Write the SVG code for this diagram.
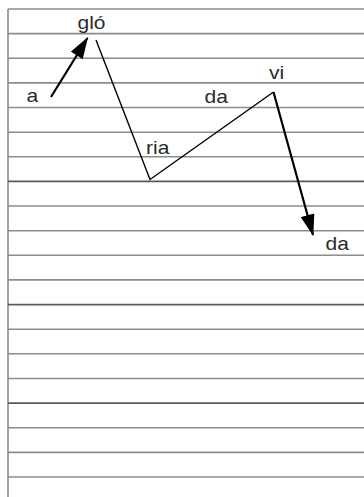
<svg xmlns="http://www.w3.org/2000/svg" width="364" height="497" viewBox="0 0 364 497">
<defs>
<marker id="ah" markerUnits="userSpaceOnUse" markerWidth="22" markerHeight="14" refX="19" refY="6.5" orient="auto" viewBox="0 0 20 13">
<path d="M0,0 L20,6.5 L0,13 Z" fill="#000"/>
</marker>
<style>
.rule{stroke:#8c8c8c;stroke-width:1.6}
.dark{stroke:#5a5a5a}
.conn{stroke:#000;fill:none;stroke-width:1.4}
.arr{stroke:#000;fill:none;stroke-width:2.2}
.lbl{font-family:"Liberation Sans",Arial,sans-serif;font-size:17.5px;fill:#2a2a2a}
</style>
</defs>
<rect width="364" height="497" fill="#fff"/>
<g id="paper">
<line class="rule" x1="8" y1="497" x2="8" y2="9"/>
<line class="rule" x1="8" y1="9" x2="364" y2="9"/>
<line class="rule" x1="8" y1="33.6" x2="364" y2="33.6"/>
<line class="rule" x1="8" y1="58.3" x2="364" y2="58.3"/>
<line class="rule" x1="8" y1="82.9" x2="364" y2="82.9"/>
<line class="rule" x1="8" y1="107.5" x2="364" y2="107.5"/>
<line class="rule" x1="8" y1="132.2" x2="364" y2="132.2"/>
<line class="rule" x1="8" y1="156.8" x2="364" y2="156.8"/>
<line class="rule dark" x1="8" y1="181.4" x2="364" y2="181.4"/>
<line class="rule" x1="8" y1="206" x2="364" y2="206"/>
<line class="rule" x1="8" y1="230.7" x2="364" y2="230.7"/>
<line class="rule" x1="8" y1="255.3" x2="364" y2="255.3"/>
<line class="rule" x1="8" y1="279.9" x2="364" y2="279.9"/>
<line class="rule dark" x1="8" y1="304.6" x2="364" y2="304.6"/>
<line class="rule" x1="8" y1="329.2" x2="364" y2="329.2"/>
<line class="rule" x1="8" y1="353.8" x2="364" y2="353.8"/>
<line class="rule" x1="8" y1="378.5" x2="364" y2="378.5"/>
<line class="rule dark" x1="8" y1="403.1" x2="364" y2="403.1"/>
<line class="rule" x1="8" y1="427.7" x2="364" y2="427.7"/>
<line class="rule" x1="8" y1="452.4" x2="364" y2="452.4"/>
<line class="rule" x1="8" y1="477" x2="364" y2="477"/>
</g>
<g id="connectors">
<line class="arr" x1="51" y1="97" x2="87.5" y2="38" marker-end="url(#ah)"/>
<polyline class="conn" points="96,40 150,179.5 273.5,92"/>
<line class="arr" x1="273.5" y1="92" x2="313" y2="235" marker-end="url(#ah)"/>
</g>
<g id="syl-a"><text class="lbl" transform="matrix(1.2 0 0 1 26.5 102)">a</text></g>
<g id="syl-glo"><text class="lbl" transform="matrix(1.2 0 0 1 77.5 29)">gló</text></g>
<g id="syl-ria"><text class="lbl" transform="matrix(1.2 0 0 1 146 153.5)">ria</text></g>
<g id="syl-da1"><text class="lbl" transform="matrix(1.2 0 0 1 204.5 103)">da</text></g>
<g id="syl-vi"><text class="lbl" transform="matrix(1.2 0 0 1 269 78.5)">vi</text></g>
<g id="syl-da2"><text class="lbl" transform="matrix(1.2 0 0 1 325.5 250)">da</text></g>
</svg>
